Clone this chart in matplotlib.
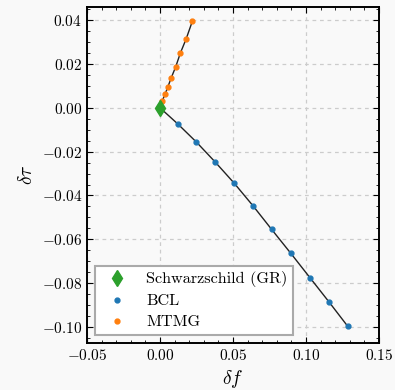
import matplotlib

matplotlib.use("Agg")
import matplotlib.pyplot as plt
from matplotlib.ticker import FuncFormatter

# GR reference point
gr_f = [0.0]
gr_tau = [0.0]

# BCL deviations
bcl_f = [0.0121, 0.0249, 0.0379, 0.0507, 0.0637, 0.0765, 0.0895, 0.1027, 0.1158, 0.1286]
bcl_tau = [-0.0073, -0.0156, -0.0248, -0.0343, -0.0447, -0.0555, -0.0663, -0.0775, -0.0886, -0.0997]

# MTMG deviations
mtmg_f = [0.0016, 0.0034, 0.0053, 0.0077, 0.0108, 0.0139, 0.0180, 0.0221]
mtmg_tau = [0.0033, 0.0061, 0.0094, 0.0137, 0.0188, 0.0249, 0.0316, 0.0394]

x_ticks = [-0.05, 0.0, 0.05, 0.10, 0.15]
y_ticks = [-0.10, -0.08, -0.06, -0.04, -0.02, 0.0, 0.02, 0.04]

plt.rcParams.update({
    "font.family": "serif",
    "font.serif": ["cmr10"],
    "mathtext.fontset": "cm",
    "axes.formatter.use_mathtext": True,
    "font.size": 11,
    "xtick.direction": "in",
    "ytick.direction": "in",
    "xtick.top": True,
    "ytick.right": True,
    "xtick.minor.visible": True,
    "ytick.minor.visible": True,
    "xtick.major.size": 4,
    "ytick.major.size": 4,
    "xtick.minor.size": 2,
    "ytick.minor.size": 2,
    "axes.linewidth": 1.4,
})

bg = "#f9f9f9"
fig = plt.figure(figsize=(3.95, 3.9), dpi=100, facecolor=bg)
ax = fig.add_axes([87 / 395, 1 - 343 / 390, (379 - 87) / 395, (343 - 7) / 390])
ax.set_facecolor(bg)

ax.plot(gr_f + bcl_f, gr_tau + bcl_tau, color="#222222", lw=1.0, zorder=2)
ax.plot(gr_f + mtmg_f, gr_tau + mtmg_tau, color="#222222", lw=1.0, zorder=2)
ax.plot(gr_f, gr_tau, "d", color="#2ca02c", ms=8, ls="none",
        label="Schwarzschild (GR)", zorder=4)
ax.plot(bcl_f, bcl_tau, "o", color="#1f77b4", ms=3.5, ls="none", label="BCL", zorder=3)
ax.plot(mtmg_f, mtmg_tau, "o", color="#ff7f0e", ms=3.5, ls="none", label="MTMG", zorder=3)

ax.set_xlim(-0.05, 0.15)
ax.set_ylim(-0.1073, 0.046)
ax.set_xticks(x_ticks)
ax.set_yticks(y_ticks)
fmt = FuncFormatter(lambda v, _: "$%.2f$" % (0.0 if abs(v) < 1e-12 else v))
ax.xaxis.set_major_formatter(fmt)
ax.yaxis.set_major_formatter(fmt)
ax.grid(True, ls=(0, (3, 3)), color="#cccccc", lw=0.9)
ax.set_axisbelow(True)

ax.set_xlabel(r"$\delta f$", fontsize=14)
ax.set_ylabel(r"$\delta \tau$", fontsize=14)

leg = ax.legend(loc="lower left", fancybox=False, framealpha=1, edgecolor="#aaaaaa",
                fontsize=11.7, borderpad=0.35, handletextpad=0.8, labelspacing=0.4)
leg.get_frame().set_linewidth(1.5)

fig.savefig("out.png", dpi=100, facecolor=bg)
